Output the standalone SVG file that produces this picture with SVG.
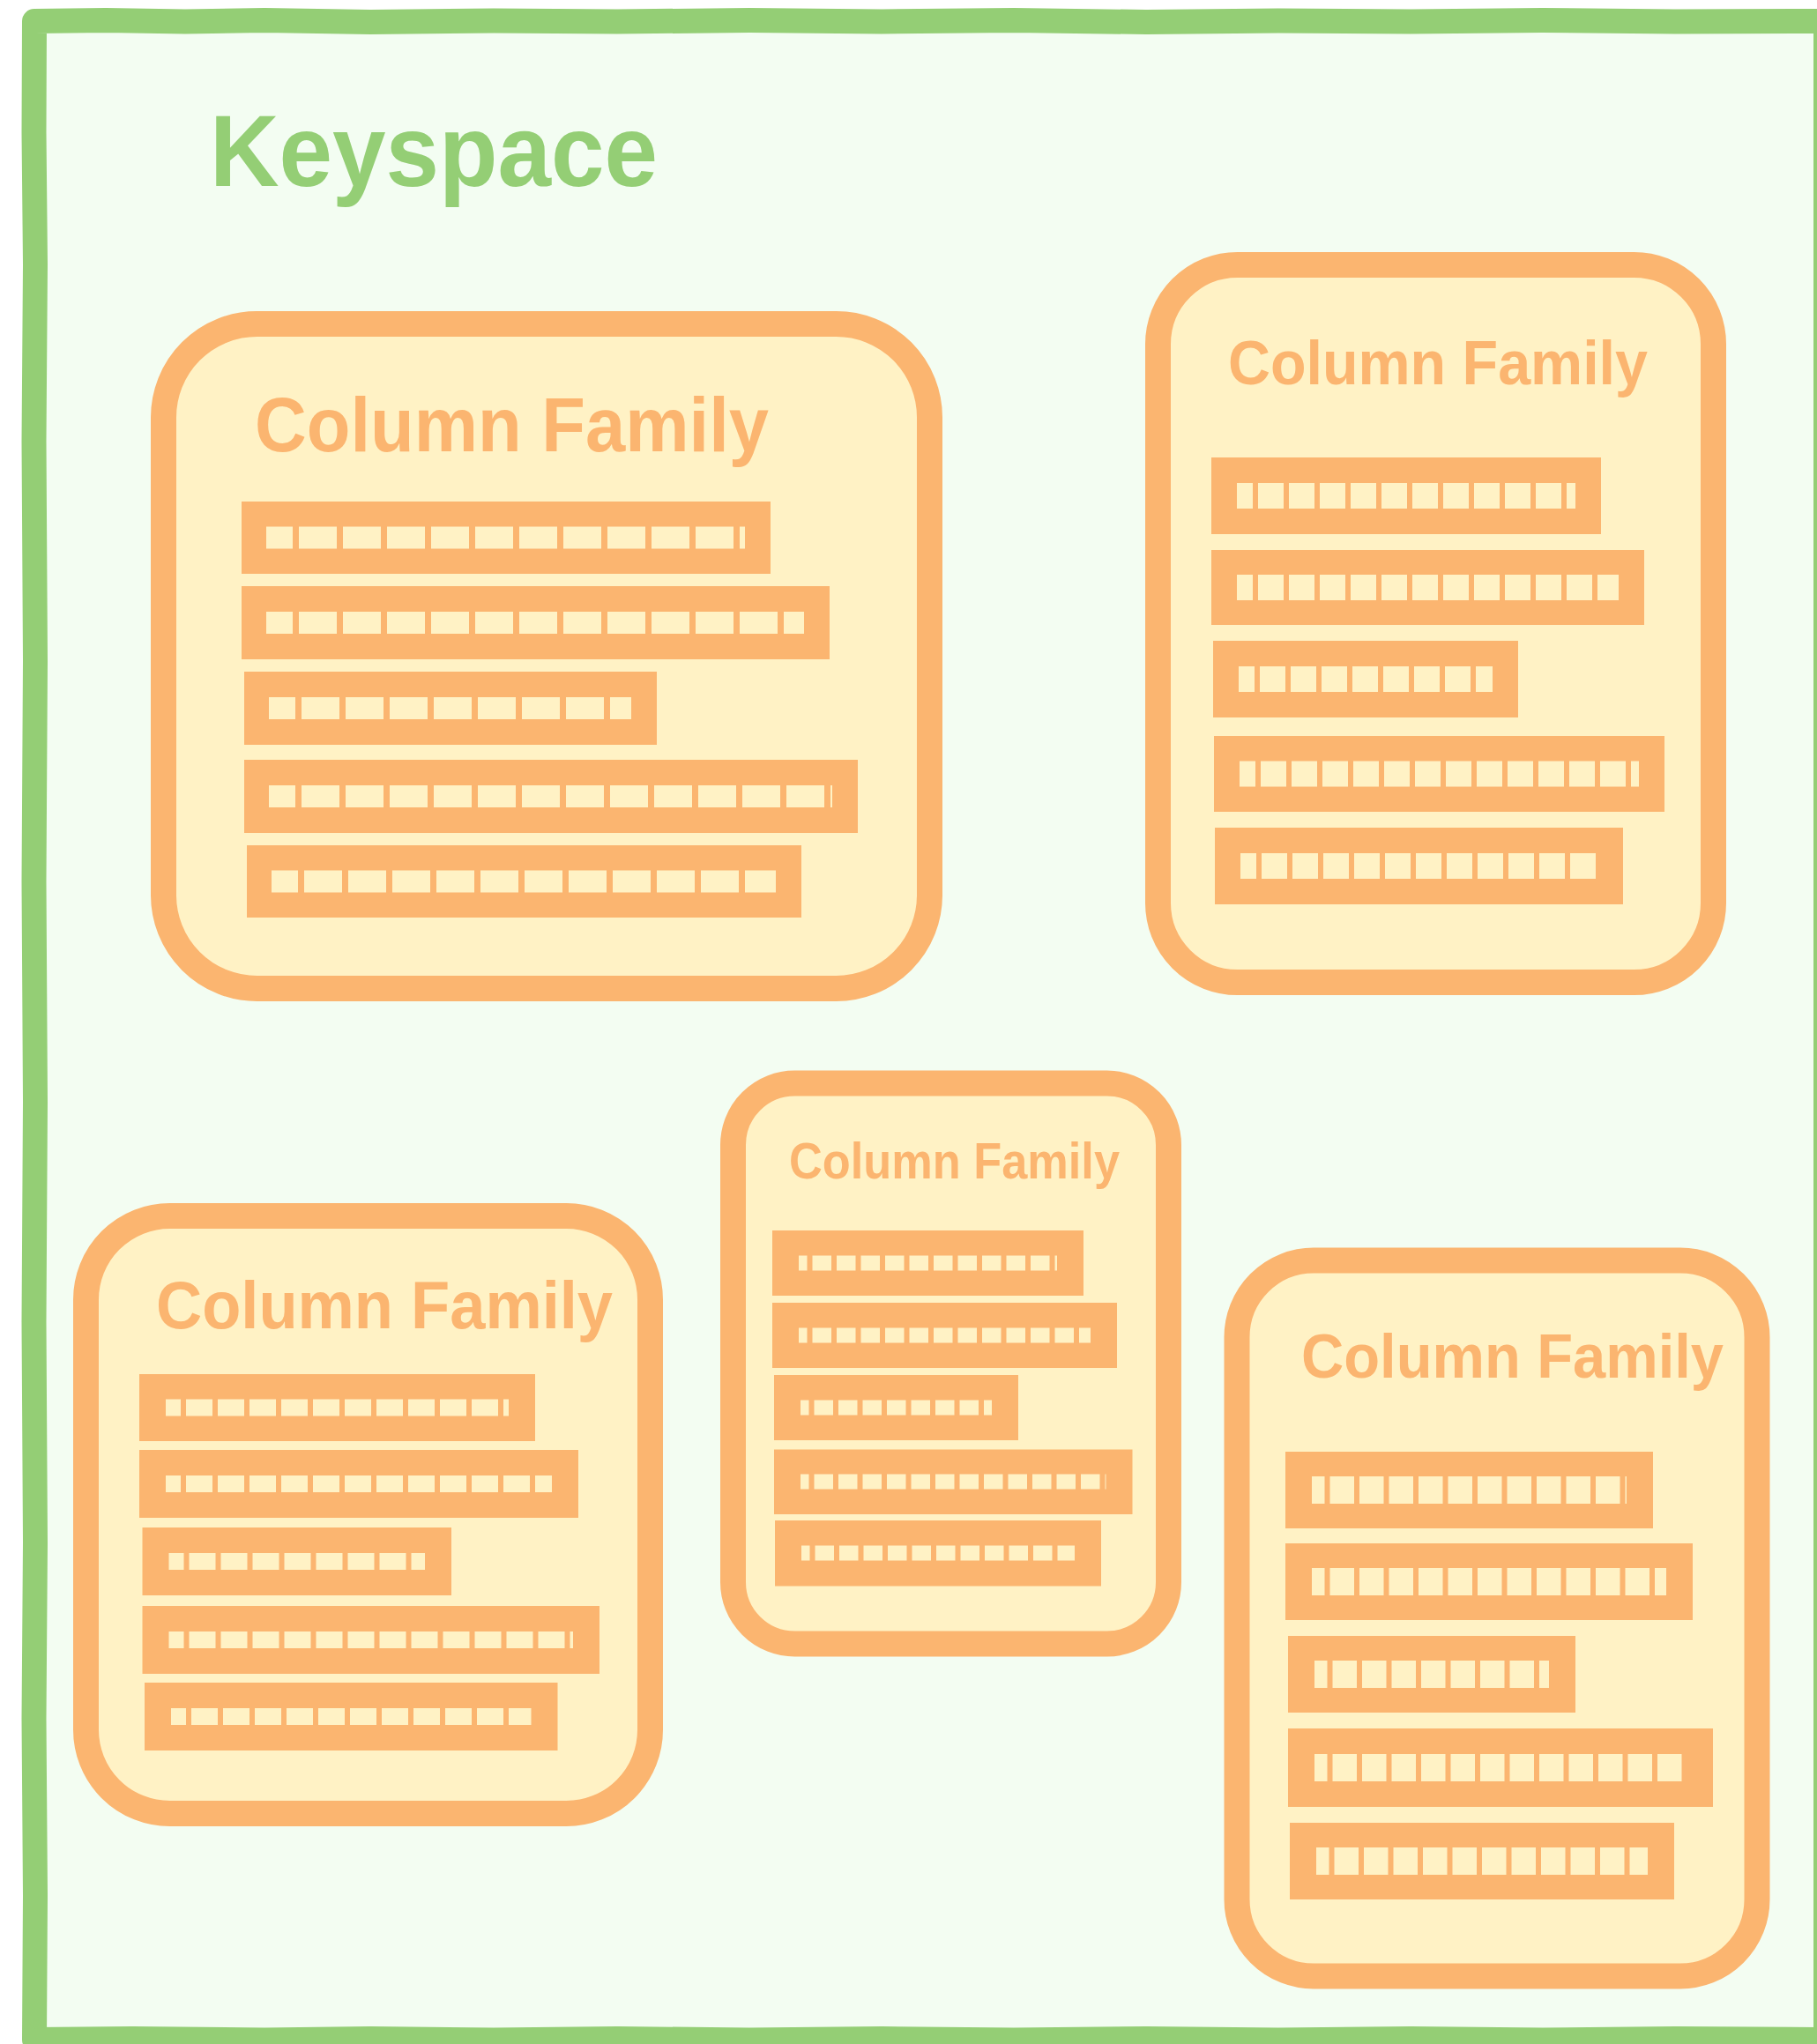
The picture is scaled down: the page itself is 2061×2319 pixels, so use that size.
<svg xmlns="http://www.w3.org/2000/svg" width="2061" height="2319" viewBox="0 0 2061 2319">
<style>
.cf{fill:#FFF2C5;stroke:#FBB570;stroke-width:29}
.bar{fill:#FBB570}
.t{font-family:"Liberation Sans",Arial,sans-serif;font-weight:bold;fill:#FBB570}
.dl{fill:none;stroke:#FFF2C5}
.d1{stroke-width:25;stroke-dasharray:43 7;stroke-dashoffset:13}
.d2{stroke-width:29;stroke-dasharray:29 6;stroke-dashoffset:11}
.d3{stroke-width:19;stroke-dasharray:30 6;stroke-dashoffset:13}
.d4{stroke-width:17;stroke-dasharray:21.5 6;stroke-dashoffset:12}
.d5{stroke-width:31;stroke-dasharray:27.5 6;stroke-dashoffset:13}
</style>
<rect x="0" y="0" width="2061" height="2319" fill="#FFFFFF"/>
<g id="keyspace">
<path d="M39,24 L120,23 L210,24.5 L300,23 L420,25 L560,23.5 L700,24.5 L850,23 L1000,24.5 L1150,23 L1300,25 L1450,23.5 L1600,24.5 L1750,23 L1900,24.5 L2071,24 L2071,2314 L1900,2313 L1750,2314.5 L1600,2313 L1450,2314.5 L1300,2313 L1150,2314.5 L1000,2313 L850,2314.5 L700,2313 L560,2314.5 L420,2313 L300,2314.5 L150,2313 L39,2314 L40,2150 L38.5,1950 L40,1750 L38.5,1500 L40,1250 L38.5,1000 L40,750 L38.5,500 L40,300 L38.5,150 Z" fill="#F3FDF2" stroke="#94CE75" stroke-width="28" stroke-linejoin="round"/>
<text x="238" y="211" font-size="115" textLength="508" lengthAdjust="spacingAndGlyphs" font-family="Liberation Sans, Arial, sans-serif" font-weight="bold" fill="#94CE75">Keyspace</text>
</g>
<g id="cf1">
<rect class="cf" x="185.5" y="367.5" width="869" height="754" rx="106" ry="106"/>
<text class="t" x="289" y="512" font-size="87" textLength="583" lengthAdjust="spacingAndGlyphs">Column Family</text>
<rect class="bar" x="274" y="569" width="600" height="82"/><line class="dl d1" x1="302" y1="610" x2="845" y2="610"/>
<rect class="bar" x="274" y="665" width="667" height="83"/><line class="dl d1" x1="302" y1="706.5" x2="912" y2="706.5"/>
<rect class="bar" x="277" y="762" width="468" height="83"/><line class="dl d1" x1="305" y1="803.5" x2="716" y2="803.5"/>
<rect class="bar" x="277" y="862" width="696" height="83"/><line class="dl d1" x1="305" y1="903.5" x2="944" y2="903.5"/>
<rect class="bar" x="280" y="959" width="629" height="82"/><line class="dl d1" x1="308" y1="1000" x2="880" y2="1000"/>
</g>
<g id="cf2">
<rect class="cf" x="1313.5" y="300.5" width="630" height="814" rx="90" ry="90"/>
<text class="t" x="1393" y="436" font-size="71" textLength="476" lengthAdjust="spacingAndGlyphs">Column Family</text>
<rect class="bar" x="1374" y="519" width="442" height="87"/><line class="dl d2" x1="1403" y1="562.5" x2="1787" y2="562.5"/>
<rect class="bar" x="1374" y="624" width="491" height="85"/><line class="dl d2" x1="1403" y1="666.5" x2="1836" y2="666.5"/>
<rect class="bar" x="1376" y="727" width="346" height="87"/><line class="dl d2" x1="1405" y1="770.5" x2="1693" y2="770.5"/>
<rect class="bar" x="1377" y="835" width="511" height="86"/><line class="dl d2" x1="1406" y1="878" x2="1859" y2="878"/>
<rect class="bar" x="1378" y="939" width="463" height="87"/><line class="dl d2" x1="1407" y1="982.5" x2="1812" y2="982.5"/>
</g>
<g id="cf3">
<rect class="cf" x="97.5" y="1379.5" width="640" height="678" rx="95" ry="95"/>
<text class="t" x="177" y="1507" font-size="76" textLength="518" lengthAdjust="spacingAndGlyphs">Column Family</text>
<rect class="bar" x="158" y="1559" width="449" height="76"/><line class="dl d3" x1="188" y1="1597" x2="577" y2="1597"/>
<rect class="bar" x="158" y="1645" width="498" height="77"/><line class="dl d3" x1="188" y1="1683.5" x2="626" y2="1683.5"/>
<rect class="bar" x="161.5" y="1733" width="350.5" height="77"/><line class="dl d3" x1="191.5" y1="1771.5" x2="482" y2="1771.5"/>
<rect class="bar" x="161.5" y="1822" width="518.5" height="77"/><line class="dl d3" x1="191.5" y1="1860.5" x2="650" y2="1860.5"/>
<rect class="bar" x="164" y="1909" width="468.5" height="77"/><line class="dl d3" x1="194" y1="1947.5" x2="602.5" y2="1947.5"/>
</g>
<g id="cf4">
<rect class="cf" x="831.5" y="1229" width="494" height="636" rx="70" ry="70"/>
<text class="t" x="895" y="1337" font-size="56.5" textLength="375" lengthAdjust="spacingAndGlyphs">Column Family</text>
<rect class="bar" x="876" y="1396" width="353" height="74"/><line class="dl d4" x1="906" y1="1433" x2="1199" y2="1433"/>
<rect class="bar" x="876" y="1478" width="391" height="74"/><line class="dl d4" x1="906" y1="1515" x2="1237" y2="1515"/>
<rect class="bar" x="878" y="1560" width="277" height="74"/><line class="dl d4" x1="908" y1="1597" x2="1125" y2="1597"/>
<rect class="bar" x="878" y="1644.5" width="406.5" height="73.5"/><line class="dl d4" x1="908" y1="1681" x2="1254.5" y2="1681"/>
<rect class="bar" x="879" y="1725" width="370" height="74.5"/><line class="dl d4" x1="909" y1="1762" x2="1219" y2="1762"/>
</g>
<g id="cf5">
<rect class="cf" x="1403" y="1430" width="590" height="812" rx="87" ry="87"/>
<text class="t" x="1476" y="1563" font-size="70.5" textLength="479" lengthAdjust="spacingAndGlyphs">Column Family</text>
<rect class="bar" x="1458" y="1647" width="417" height="87"/><line class="dl d5" x1="1488" y1="1690.5" x2="1845" y2="1690.5"/>
<rect class="bar" x="1458" y="1751" width="462" height="87"/><line class="dl d5" x1="1488" y1="1794.5" x2="1890" y2="1794.5"/>
<rect class="bar" x="1461" y="1856" width="326" height="87"/><line class="dl d5" x1="1491" y1="1899.5" x2="1757" y2="1899.5"/>
<rect class="bar" x="1461" y="1961" width="482" height="89"/><line class="dl d5" x1="1491" y1="2005.5" x2="1913" y2="2005.5"/>
<rect class="bar" x="1463" y="2068" width="436" height="87"/><line class="dl d5" x1="1493" y1="2111.5" x2="1869" y2="2111.5"/>
</g>
<g id="connectors"/>
</svg>
